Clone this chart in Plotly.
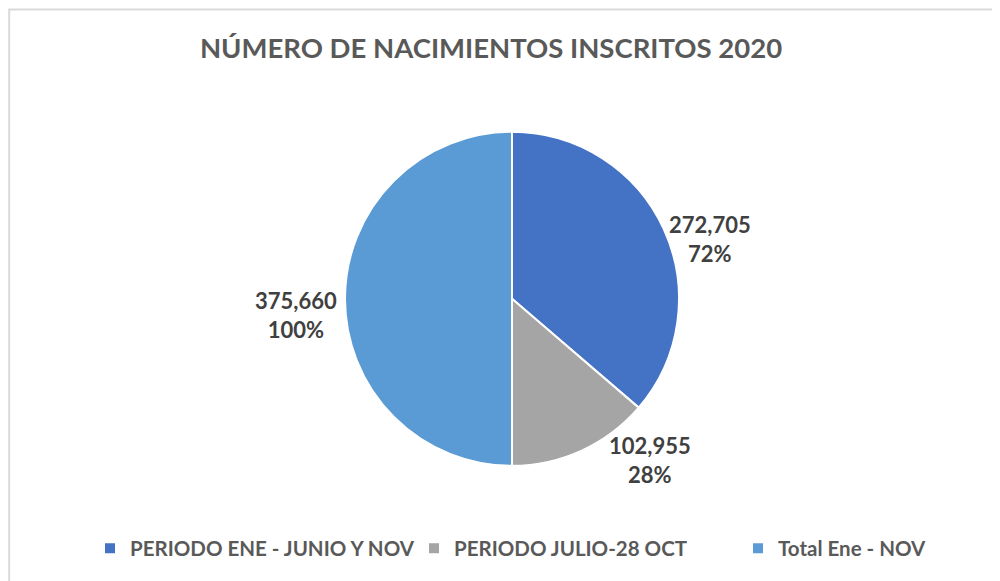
import plotly.graph_objects as go

categories = ["PERIODO ENE - JUNIO Y NOV", "PERIODO JULIO-28 OCT", "Total Ene - NOV"]
values = [272705, 102955, 375660]
percent_labels = ["72%", "28%", "100%"]
colors = ["#4472C4", "#A5A5A5", "#5B9BD5"]

FONT = "Lato"
W, H = 1100, 581  # canvas a bit wider than the viewport so the legend stays on one row

# label anchor positions (pixels from the figure's left / top), one per slice
label_px = [702, 642, 288]
label_py = [230.5, 452, 307]

fig = go.Figure(go.Pie(
    labels=categories,
    values=values,
    sort=False,
    direction="clockwise",
    rotation=0,
    marker=dict(colors=colors, line=dict(color="white", width=2)),
    textinfo="none",
    hoverinfo="label+value",
    domain=dict(x=[337 / W, 671 / W], y=[0.212, 0.787]),
    automargin=False,
))

for v, p, x, y in zip(values, percent_labels, label_px, label_py):
    fig.add_annotation(
        x=x / W, y=1 - y / H, xref="paper", yref="paper", showarrow=False,
        text=f"<b>{v:,}</b><br><b>{p}</b>",
        xanchor="center", yanchor="middle", align="center",
        font=dict(family=FONT, size=22, color="#404040"),
    )

fig.update_layout(
    width=W, height=H,
    margin=dict(l=0, r=0, t=0, b=0),
    paper_bgcolor="white",
    title=dict(text="<b>NÚMERO DE NACIMIENTOS INSCRITOS 2020</b>",
               x=483 / W, xanchor="center", y=0.931, yanchor="middle",
               font=dict(family=FONT, size=27.5, color="#595959")),
    legend=dict(orientation="h", x=82 / W, xanchor="left", y=0.07, yanchor="middle",
                font=dict(family=FONT, size=20.5, color="#595959", weight="bold"),
                traceorder="normal", itemwidth=30,
                entrywidth=279, entrywidthmode="pixels"),
    showlegend=True,
    shapes=[dict(type="rect", xref="paper", yref="paper",
                 x0=1.2 / W, x1=1.02, y0=-0.02, y1=1 - 1.5 / H,
                 line=dict(color="#D9D9D9", width=2), fillcolor="rgba(0,0,0,0)")],
)

fig.write_html("out.html")
